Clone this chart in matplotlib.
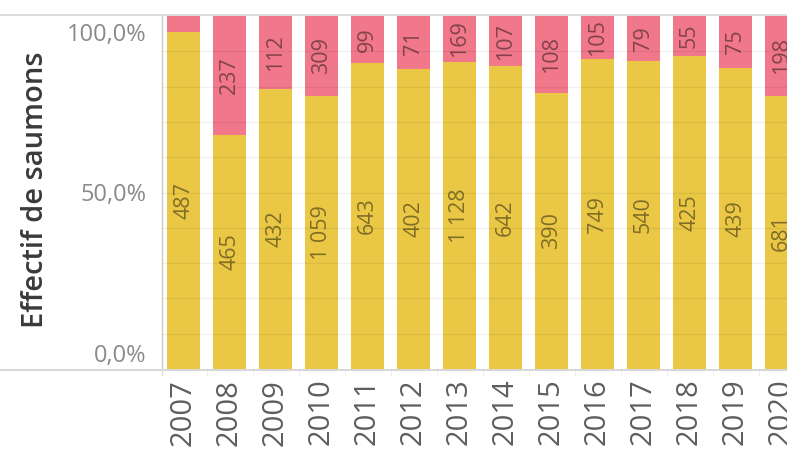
import matplotlib
matplotlib.use("Agg")
import matplotlib.pyplot as plt
from matplotlib.lines import Line2D
from matplotlib.transforms import ScaledTranslation
import numpy as np

# ---- data ----
years = ["2007", "2008", "2009", "2010", "2011", "2012", "2013",
         "2014", "2015", "2016", "2017", "2018", "2019", "2020"]
yellow_counts = [487, 465, 432, 1059, 643, 402, 1128, 642, 390, 749, 540, 425, 439, 681]
pink_counts = [23, 237, 112, 309, 99, 71, 169, 107, 108, 105, 79, 55, 75, 198]
ytick_values = [0.0, 0.5, 1.0]
ytick_labels = ["0,0%", "50,0%", "100,0%"]
ylabel_text = "Effectif de saumons"

YELLOW = "#EAC845"
PINK = "#F0788A"

plt.rcParams['font.family'] = ['Open Sans', 'DejaVu Sans']

W, H = 787, 450
fig = plt.figure(figsize=(W / 100, H / 100), dpi=100)
ax = fig.add_axes([162 / W, 81 / H, 625 / W, 353 / H])

x = np.arange(len(years))
yv = np.array(yellow_counts, dtype=float)
pv = np.array(pink_counts, dtype=float)
tot = yv + pv
yf = yv / tot
pf = pv / tot

bw = 0.73
ax.bar(x, yf, width=bw, color=YELLOW, zorder=2, linewidth=0)
ax.bar(x, pf, bottom=yf, width=bw, color=PINK, zorder=2, linewidth=0)

def fmt(v):
    return f"{int(v):,}".replace(",", " ")

lab_col = (0, 0, 0, 0.45)
for i in range(len(years)):
    ax.text(x[i], yf[i] / 2, fmt(yv[i]), rotation=90, ha='center', va='center',
            fontsize=15.5, color=lab_col, zorder=4, clip_on=True)
    if pf[i] > 0.08:
        ax.text(x[i], yf[i] + pf[i] / 2, fmt(pv[i]), rotation=90, ha='center',
                va='center', fontsize=15.5, color=lab_col, zorder=4, clip_on=True)

ax.set_xlim((162 - 183.5) / 46, (787 - 183.5) / 46)
ax.set_ylim(0, 1)

# grid
for g in np.arange(0.1, 1.0, 0.1):
    ax.axhline(g, color=(0, 0, 0, 0.06), lw=1, zorder=3)

ax.set_yticks(ytick_values)
ax.set_yticklabels(ytick_labels)
ax.tick_params(axis='y', length=0, pad=11.5, labelsize=17, labelcolor='#8a8a8a')
labs = ax.get_yticklabels()
labs[0].set_transform(labs[0].get_transform() + ScaledTranslation(0, 16 / 100, fig.dpi_scale_trans))
labs[-1].set_transform(labs[-1].get_transform() + ScaledTranslation(0, -16.5 / 100, fig.dpi_scale_trans))

ax.set_xticks(x)
ax.set_xticklabels(years, rotation=90)
ax.tick_params(axis='x', length=0, pad=7, labelsize=21, labelcolor='#5e5e5e')
ax.set_xticks(x[:-1] + 0.5, minor=True)
ax.tick_params(axis='x', which='minor', length=5, color='#eeeeee')

for s in ['top', 'right', 'bottom']:
    ax.spines[s].set_visible(False)
ax.spines['left'].set_color('#cccccc')
ax.spines['left'].set_linewidth(1)

# frame lines across the figure
fig.add_artist(Line2D([0, 1], [1 - 15 / H, 1 - 15 / H], transform=fig.transFigure,
                      color='#d4d4d4', lw=1.2))
fig.add_artist(Line2D([0, 1], [80 / H, 80 / H], transform=fig.transFigure,
                      color='#cfcfcf', lw=1.2))
fig.add_artist(Line2D([162 / W, 162 / W], [75 / H, 81 / H], transform=fig.transFigure,
                      color='#dddddd', lw=1))

fig.text(36 / W, 1 - 189.5 / H, ylabel_text, rotation=90, ha='center', va='center',
         fontsize=21, fontweight='semibold', color='#3a3a3a')

fig.savefig("out.png", dpi=100)
